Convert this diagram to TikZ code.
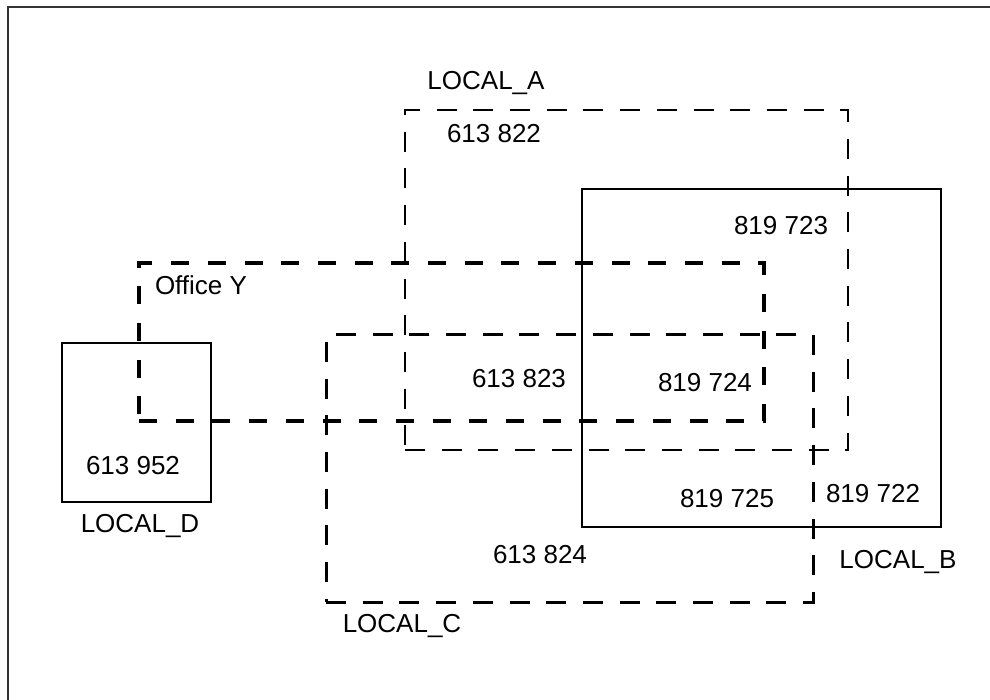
\documentclass[tikz,border=0pt]{standalone}
\usepackage{fontspec}
\setmainfont{Liberation Sans}
\begin{document}
\begin{tikzpicture}[x=1pt,y=-1pt,
  box/.style={draw, rectangle, inner sep=0pt, outer sep=0pt, anchor=north west},
  solidbox/.style={box, line width=1.6pt},
  thindash/.style={box, line width=1.6pt, dash pattern=on 20pt off 16.7pt},
  middash/.style={box, line width=3pt, dash pattern=on 20pt off 16.7pt},
  thickdash/.style={box, line width=4pt, dash pattern=on 18pt off 18.7pt},
  lbl/.style={inner sep=0pt, anchor=base, font=\fontsize{26}{30}\selectfont}]
\useasboundingbox (0,0) rectangle (990,700);
\fill[white] (0,0) rectangle (990,700);
% outer frame (left and top only)
\coordinate (fbl) at (8,700);
\coordinate (ftl) at (8,7);
\coordinate (ftr) at (990,7);
\draw[black!80, line width=1.5pt] (fbl) -- (ftl) -- (ftr);
% boxes
\node[thindash, minimum width=443pt, minimum height=340pt] (A) at (405,110) {};
\node[solidbox, minimum width=359pt, minimum height=338pt] (B) at (582,189) {};
\node[middash, minimum width=487pt, minimum height=267pt] (C) at (326,335) {};
\node[solidbox, minimum width=149pt, minimum height=159pt] (D) at (62,343) {};
\node[thickdash, minimum width=625pt, minimum height=158pt] (Y) at (139,263) {};
% labels
\node[lbl] (la) at (486,90) {LOCAL\_A};
\node[lbl] (n822) at (494,143) {613 822};
\node[lbl] (n723) at (781,235) {819 723};
\node[lbl] (ly) at (201,295) {Office Y};
\node[lbl] (n823) at (519,387) {613 823};
\node[lbl] (n724) at (705,391) {819 724};
\node[lbl] (n952) at (133,474) {613 952};
\node[lbl] (n722) at (873,502) {819 722};
\node[lbl] (n725) at (727,507) {819 725};
\node[lbl] (ld) at (140,532) {LOCAL\_D};
\node[lbl] (n824) at (540,563) {613 824};
\node[lbl] (lb) at (898,568) {LOCAL\_B};
\node[lbl] (lc) at (402,632) {LOCAL\_C};
\end{tikzpicture}
\end{document}
